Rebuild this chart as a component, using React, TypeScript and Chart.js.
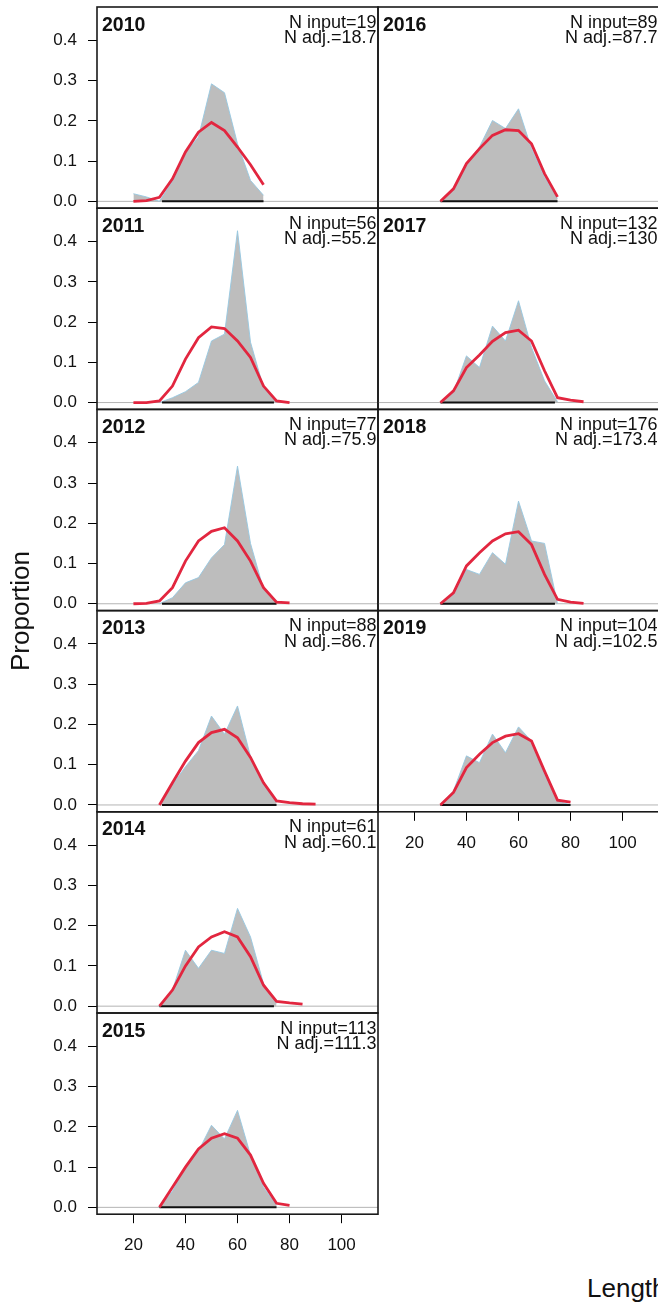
import React, { useEffect, useRef } from 'react';
import { Chart, registerables } from 'chart.js';

Chart.register(...registerables);

// ---------------- data ----------------
const lengthBins = [20, 25, 30, 35, 40, 45, 50, 55, 60, 65, 70, 75, 80, 85, 90];
const years = ['2010', '2011', '2012', '2013', '2014', '2015', '2016', '2017', '2018', '2019'];
const nInput = ['19', '56', '77', '88', '61', '113', '89', '132', '176', '104'];
const nAdj = ['18.7', '55.2', '75.9', '86.7', '60.1', '111.3', '87.7', '130', '173.4', '102.5'];
const yTicks = [0, 0.1, 0.2, 0.3, 0.4];
const xTicks = [20, 40, 60, 80, 100];
const baseFrom = [31, 31, 31, 31, 30, 30, 30, 30, 30, 30];
const baseTo = [70, 74, 75, 75, 74, 75, 75, 74, 74, 80];

const N = null;
// observed proportions (grey)
const obs2010 = [0.019, 0.011, 0.0, 0.05, 0.12, 0.16, 0.292, 0.27, 0.143, 0.052, 0.015, N, N, N, N];
const obs2011 = [N, N, 0.0, 0.012, 0.027, 0.05, 0.153, 0.17, 0.427, 0.15, 0.037, 0.0, N, N, N];
const obs2012 = [N, N, 0.0, 0.015, 0.052, 0.065, 0.114, 0.147, 0.342, 0.15, 0.036, 0.007, N, N, N];
const obs2013 = [N, N, 0.0, 0.05, 0.095, 0.135, 0.221, 0.176, 0.246, 0.12, 0.05, 0.006, N, N, N];
const obs2014 = [N, N, 0.0, 0.04, 0.139, 0.094, 0.139, 0.131, 0.243, 0.172, 0.056, 0.007, N, N, N];
const obs2015 = [N, N, 0.0, 0.04, 0.1, 0.14, 0.204, 0.17, 0.241, 0.13, 0.05, 0.005, N, N, N];
const obs2016 = [N, N, 0.0, 0.027, 0.089, 0.135, 0.201, 0.181, 0.23, 0.131, 0.06, 0.007, N, N, N];
const obs2017 = [N, N, 0.0, 0.025, 0.116, 0.087, 0.19, 0.153, 0.253, 0.137, 0.054, 0.002, N, N, N];
const obs2018 = [N, N, 0.0, 0.023, 0.085, 0.073, 0.127, 0.098, 0.255, 0.156, 0.15, 0.0, N, N, N];
const obs2019 = [N, N, 0.0, 0.035, 0.122, 0.105, 0.176, 0.13, 0.194, 0.159, 0.076, 0.01, 0.0, N, N];

// expected proportions (red)
const exp2010 = [0.0, 0.002, 0.01, 0.056, 0.123, 0.172, 0.196, 0.176, 0.135, 0.091, 0.041, N, N, N, N];
const exp2011 = [0.0, 0.0, 0.004, 0.041, 0.108, 0.161, 0.188, 0.184, 0.153, 0.112, 0.041, 0.004, 0.0, N, N];
const exp2012 = [0.0, 0.001, 0.007, 0.04, 0.106, 0.156, 0.18, 0.189, 0.156, 0.106, 0.04, 0.004, 0.002, N, N];
const exp2013 = [N, N, 0.0, 0.055, 0.109, 0.155, 0.18, 0.188, 0.167, 0.118, 0.055, 0.01, 0.006, 0.003, 0.002];
const exp2014 = [N, N, 0.0, 0.04, 0.1, 0.147, 0.172, 0.185, 0.172, 0.123, 0.052, 0.012, 0.008, 0.005, N];
const exp2015 = [N, N, 0.0, 0.05, 0.1, 0.145, 0.172, 0.183, 0.172, 0.13, 0.06, 0.01, 0.005, N, N];
const exp2016 = [N, N, 0.0, 0.031, 0.094, 0.131, 0.164, 0.178, 0.176, 0.143, 0.069, 0.011, N, N, N];
const exp2017 = [N, N, 0.0, 0.029, 0.087, 0.118, 0.152, 0.174, 0.18, 0.153, 0.079, 0.012, 0.006, 0.002, N];
const exp2018 = [N, N, 0.0, 0.027, 0.094, 0.127, 0.156, 0.174, 0.179, 0.147, 0.073, 0.011, 0.004, 0.001, N];
const exp2019 = [N, N, 0.0, 0.031, 0.093, 0.126, 0.155, 0.171, 0.177, 0.159, 0.084, 0.012, 0.007, N, N];

const observed = [obs2010, obs2011, obs2012, obs2013, obs2014, obs2015, obs2016, obs2017, obs2018, obs2019];
const expected = [exp2010, exp2011, exp2012, exp2013, exp2014, exp2015, exp2016, exp2017, exp2018, exp2019];

// ---------------- layout / style ----------------
const FONT = '"Liberation Sans", Arial, Helvetica, sans-serif';
const PANEL_H = 201.2;
const PANEL_W = 281;
const MARGIN = 26;
const X_MIN = 6;
const X_MAX = 114;
const Y_MIN = -0.017;
const Y_MAX = 0.483;

function toPoints(arr: (number | null)[]) {
  return lengthBins
    .map((x, k) => ({ x, y: arr[k] }))
    .filter((p) => p.y !== null) as { x: number; y: number }[];
}

function Panel({ idx }: { idx: number }) {
  const ref = useRef<HTMLCanvasElement | null>(null);
  const col = idx < 6 ? 0 : 1;
  const row = col === 0 ? idx : idx - 6;
  const isBottom = idx === 5 || idx === 9;
  const top = 7 + PANEL_H * row;
  const areaLeft = col === 0 ? 97 : 378;
  const areaRight = areaLeft + PANEL_W;
  const canvasLeft = col === 0 ? 0 : areaLeft - 3;
  const canvasTop = Math.floor(top) - MARGIN;
  const padTop = top - canvasTop;
  const axisH = isBottom ? 56 : 0;
  const canvasW = areaRight + 3 - canvasLeft;
  const canvasH = Math.ceil(padTop + PANEL_H + MARGIN + axisH);
  const padBottom = canvasH - padTop - PANEL_H - axisH;

  useEffect(() => {
    const canvas = ref.current;
    if (!canvas) return;
    const deco = {
      id: 'panelDeco',
      beforeDatasetsDraw(chart: any) {
        const { ctx, chartArea: a, scales } = chart;
        const y0 = scales.y.getPixelForValue(0);
        ctx.save();
        ctx.strokeStyle = '#b4b4b4';
        ctx.lineWidth = 1;
        ctx.beginPath();
        ctx.moveTo(a.left, y0);
        ctx.lineTo(a.right, y0);
        ctx.stroke();
        ctx.restore();
      },
      afterDraw(chart: any) {
        const { ctx, chartArea: a } = chart;
        ctx.save();
        ctx.strokeStyle = '#1a1a1a';
        ctx.lineWidth = 1.6;
        ctx.strokeRect(a.left, a.top, a.right - a.left, a.bottom - a.top);
        ctx.fillStyle = '#111';
        ctx.textBaseline = 'alphabetic';
        ctx.textAlign = 'left';
        ctx.font = `bold 19.5px ${FONT}`;
        ctx.fillText(years[idx], a.left + 5, a.top + 23.5);
        ctx.textAlign = 'right';
        ctx.font = `18px ${FONT}`;
        ctx.fillText('N input=' + nInput[idx], a.right - 1.5, a.top + 20.5);
        ctx.fillText('N adj.=' + nAdj[idx], a.right - 1.5, a.top + 36);
        ctx.restore();
      },
    };

    const chart = new Chart(canvas, {
      type: 'line',
      data: {
        datasets: [
          {
            label: 'expected',
            data: toPoints(expected[idx]),
            borderColor: '#e2263f',
            borderWidth: 2.8,
            pointRadius: 0,
            fill: false,
            tension: 0,
            order: 1,
          },
          {
            label: 'range',
            data: [
              { x: baseFrom[idx], y: 0 },
              { x: baseTo[idx], y: 0 },
            ],
            borderColor: '#111',
            borderWidth: 2,
            pointRadius: 0,
            fill: false,
            order: 2,
          },
          {
            label: 'observed',
            data: toPoints(observed[idx]),
            borderColor: 'rgba(150,200,225,0.9)',
            backgroundColor: '#bdbdbd',
            borderWidth: 1,
            pointRadius: 0,
            fill: 'origin',
            tension: 0,
            order: 3,
          },
        ],
      },
      options: {
        animation: false,
        responsive: false,
        maintainAspectRatio: false,
        events: [],
        layout: {
          padding: { top: padTop, bottom: padBottom, left: col === 0 ? 0 : 3, right: 3 },
        },
        plugins: { legend: { display: false }, tooltip: { enabled: false } },
        scales: {
          x: {
            type: 'linear',
            min: X_MIN,
            max: X_MAX,
            display: isBottom,
            afterBuildTicks: (s: any) => {
              s.ticks = xTicks.map((v) => ({ value: v }));
            },
            afterFit: (s: any) => {
              s.height = axisH;
            },
            grid: { drawOnChartArea: false, drawTicks: true, tickLength: 9, tickColor: '#000', tickWidth: 1 },
            border: { display: false },
            ticks: {
              color: '#111',
              font: { family: FONT, size: 17 },
              padding: 12,
              maxRotation: 0,
              autoSkip: false,
              callback: (v: any) => String(v),
            },
          },
          y: {
            type: 'linear',
            min: Y_MIN,
            max: Y_MAX,
            display: col === 0,
            afterBuildTicks: (s: any) => {
              s.ticks = yTicks.map((v) => ({ value: v }));
            },
            afterFit: (s: any) => {
              s.width = col === 0 ? 97 : 0;
            },
            grid: { drawOnChartArea: false, drawTicks: true, tickLength: 9, tickColor: '#000', tickWidth: 1 },
            border: { display: false },
            ticks: {
              color: '#111',
              font: { family: FONT, size: 17 },
              padding: 11,
              autoSkip: false,
              callback: (v: any) => Number(v).toFixed(1),
            },
          },
        },
      },
      plugins: [deco],
    } as any);
    return () => chart.destroy();
  }, [idx]);

  return (
    <canvas
      ref={ref}
      width={canvasW}
      height={canvasH}
      style={{
        position: 'absolute',
        left: canvasLeft,
        top: canvasTop,
        width: canvasW,
        height: canvasH,
      }}
    />
  );
}

export default function App() {
  return (
    <div
      style={{
        position: 'absolute',
        left: 0,
        top: 0,
        width: 658,
        height: 1308,
        overflow: 'hidden',
        background: '#fff',
      }}
    >
      {years.map((y, i) => (
        <Panel key={y} idx={i} />
      ))}
      <div
        style={{
          position: 'absolute',
          left: 19.5,
          top: 611,
          transform: 'translate(-50%, -50%) rotate(-90deg)',
          font: `26px ${FONT}`,
          lineHeight: '26px',
          whiteSpace: 'nowrap',
          color: '#111',
        }}
      >
        Proportion
      </div>
      <div
        style={{
          position: 'absolute',
          left: 587,
          top: 1275,
          font: `26px ${FONT}`,
          lineHeight: '26px',
          whiteSpace: 'nowrap',
          color: '#111',
        }}
      >
        Length
      </div>
    </div>
  );
}
